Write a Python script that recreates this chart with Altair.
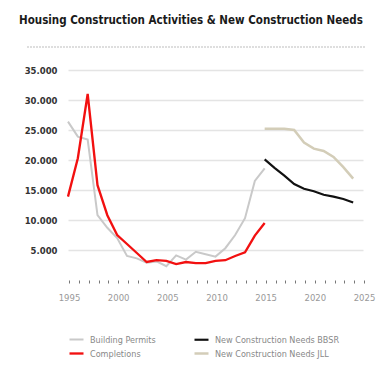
import altair as alt
import pandas as pd

title_text = "Housing Construction Activities & New Construction Needs"

hist_years = list(range(1995, 2016))
permits = [26400, 23900, 23400, 10800, 8700, 7000, 4000, 3600, 2900, 3100, 2300,
           4100, 3400, 4700, 4300, 3900, 5300, 7500, 10300, 16500, 18600]
completions = [13900, 20300, 31000, 15800, 10800, 7500, 6000, 4500, 3000, 3300, 3200,
               2650, 3000, 2800, 2800, 3200, 3300, 4000, 4600, 7400, 9500]

need_years = list(range(2015, 2025))
needs_bbsr = [20100, 18700, 17400, 16000, 15200, 14800, 14200, 13900, 13500, 12900]
needs_jll = [25200, 25200, 25200, 25000, 22900, 21900, 21500, 20500, 18800, 16900]

series_names = ["Building Permits", "New Construction Needs BBSR",
                "Completions", "New Construction Needs JLL"]
series_colors = ["#c9c9c9", "#111111", "#f21010", "#d3cdb8"]
series_widths = [2, 2.5, 2, 2]

y_ticks = [5000, 10000, 15000, 20000, 25000, 30000, 35000]
x_ticks = list(range(1995, 2026))

COND = "'DejaVu Sans Condensed', 'DejaVu Sans', sans-serif"

rows = []
for y, v in zip(hist_years, permits):
    rows.append({"year": y, "value": v, "series": "Building Permits"})
for y, v in zip(hist_years, completions):
    rows.append({"year": y, "value": v, "series": "Completions"})
for y, v in zip(need_years, needs_bbsr):
    rows.append({"year": y, "value": v, "series": "New Construction Needs BBSR"})
for y, v in zip(need_years, needs_jll):
    rows.append({"year": y, "value": v, "series": "New Construction Needs JLL"})
df = pd.DataFrame(rows)

lines = alt.Chart(df).mark_line(interpolate="linear").encode(
    x=alt.X("year:Q",
            scale=alt.Scale(domain=[1995, 2025], nice=False, zero=False),
            axis=alt.Axis(values=x_ticks, grid=False, domain=False, ticks=True,
                          tickSize=3, tickColor="#777", tickWidth=1, tickOffset=1,
                          labelFlush=False,
                          labelExpr="datum.value % 5 == 0 ? toString(datum.value) : ''",
                          labelFont="DejaVu Sans", labelFontSize=8.5, labelColor="#999",
                          labelPadding=10, title=None)),
    y=alt.Y("value:Q",
            scale=alt.Scale(domain=[0, 35000], nice=False),
            axis=alt.Axis(values=y_ticks, grid=True, gridColor="#e4e4e4", gridWidth=1.5,
                          domain=False, ticks=False,
                          labelExpr="replace(format(datum.value, ','), ',', '.')",
                          labelFont="DejaVu Sans", labelFontSize=8.5, labelFontWeight="bold",
                          labelColor="#333", labelPadding=11, title=None)),
    color=alt.Color("series:N",
                    scale=alt.Scale(domain=series_names, range=series_colors),
                    legend=alt.Legend(orient="none", legendX=0, legendY=261,
                                      direction="horizontal", columns=2,
                                      title=None, symbolType="stroke",
                                      symbolSize=196, symbolStrokeWidth=2.5,
                                      labelFont=COND, labelFontSize=9,
                                      labelColor="#888", labelOffset=5,
                                      columnPadding=33, rowPadding=0, padding=0)),
    strokeWidth=alt.StrokeWidth("series:N",
                                scale=alt.Scale(domain=series_names, range=series_widths),
                                legend=None),
)

separator = alt.Chart(alt.Data(values=[{}])).mark_rule(
    color="#bdbdbd", strokeDash=[2, 1], strokeWidth=1
).encode(x=alt.value(-41), x2=alt.value(297), y=alt.value(-23))

chart = alt.layer(separator, lines).properties(
    width=295, height=210,
    title=alt.TitleParams(title_text, anchor="start", frame="group", dx=-49, dy=0,
                          font=COND, fontSize=11.5, fontWeight="bold",
                          color="#1a1a1a", offset=20),
    autosize=alt.AutoSizeParams(type="none"),
    padding={"left": 60, "top": 62, "right": 18, "bottom": 85},
).configure_view(stroke=None)

chart.save("out.html", embed_options={"renderer": "svg", "actions": False})
